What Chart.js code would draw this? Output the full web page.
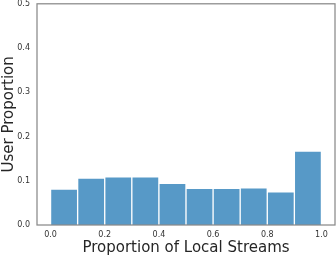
<!DOCTYPE html>
<html>
<head>
<meta charset="utf-8">
<script src="https://cdn.jsdelivr.net/npm/chart.js@4/dist/chart.umd.min.js"></script>
<style>
  html, body { margin: 0; padding: 0; background: #fff; }
  #wrap { width: 336px; height: 257px; position: relative; overflow: hidden; }
  #chart { position: absolute; left: 0; top: -8px; }
</style>
</head>
<body>
<div id="wrap"><canvas id="chart" width="336" height="265"></canvas></div>
<script>
// histogram bins (centres) and heights
const binCenters = [0.05, 0.15, 0.25, 0.35, 0.45, 0.55, 0.65, 0.75, 0.85, 0.95];
const userShare = [0.081, 0.106, 0.109, 0.109, 0.094, 0.083, 0.083, 0.084, 0.075, 0.167];
const xTicks = [0, 0.2, 0.4, 0.6, 0.8, 1.0];

const tickFont = { family: 'DejaVu Sans', size: 8 };
const titleFont = { family: 'DejaVu Sans', size: 15, lineHeight: 1.2 };

// box around the plot (matplotlib-style spines)
const frame = {
  id: 'frame',
  afterDraw(chart) {
    const a = chart.chartArea, ctx = chart.ctx;
    ctx.save();
    ctx.strokeStyle = '#8a8a8a';
    ctx.lineWidth = 1.25;
    ctx.strokeRect(a.left, a.top, a.right - a.left, a.bottom - a.top);
    ctx.restore();
  }
};

new Chart(document.getElementById('chart'), {
  type: 'bar',
  data: {
    datasets: [{
      data: binCenters.map((x, i) => ({ x: x, y: userShare[i] })),
      backgroundColor: '#5799c7',
      borderColor: 'rgba(255,255,255,0.65)',
      borderWidth: 1,
      barPercentage: 1,
      categoryPercentage: 1
    }]
  },
  options: {
    responsive: false,
    animation: false,
    layout: { padding: { top: 0, right: 1, left: 0, bottom: 0 } },
    plugins: { legend: { display: false }, tooltip: { enabled: false } },
    scales: {
      x: {
        type: 'linear',
        min: -0.05,
        max: 1.05,
        offset: false,
        afterBuildTicks(axis) { axis.ticks = xTicks.map(v => ({ value: v })); },
        afterFit(axis) { axis.height = 32; },
        grid: { display: false, drawTicks: false },
        border: { display: false },
        ticks: {
          color: '#333',
          font: tickFont,
          padding: 5,
          maxRotation: 0,
          callback: v => v.toFixed(1)
        },
        title: { display: true, text: 'Proportion of Local Streams', color: '#262626', font: titleFont, padding: 0 }
      },
      y: {
        min: 0,
        max: 0.5,
        afterFit(axis) { axis.width = 37; },
        grid: { display: false, drawTicks: false },
        border: { display: false },
        ticks: {
          stepSize: 0.1,
          color: '#333',
          font: tickFont,
          padding: 7,
          callback: v => v.toFixed(1)
        },
        title: { display: true, text: 'User Proportion', color: '#262626', font: titleFont, padding: 0 }
      }
    }
  },
  plugins: [frame]
});
</script>
</body>
</html>
